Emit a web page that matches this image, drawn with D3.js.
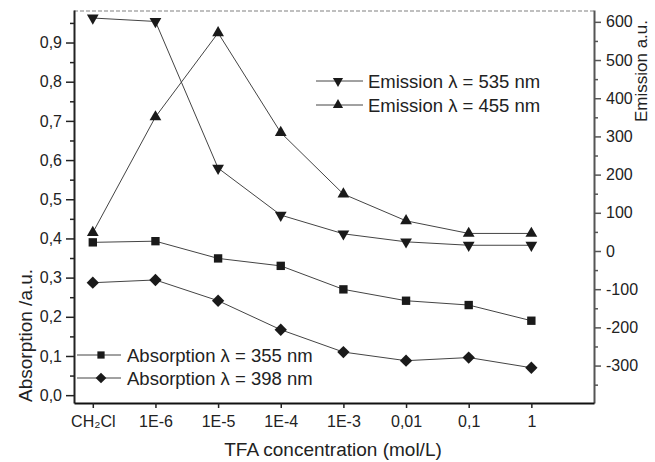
<!DOCTYPE html>
<html>
<head>
<meta charset="utf-8">
<script src="https://cdn.jsdelivr.net/npm/d3@7"></script>
<style>
  body { margin: 0; background: #fff; }
  svg { font-family: "Liberation Sans", Arial, sans-serif; }
</style>
</head>
<body>
<svg id="chart" width="655" height="462"></svg>
<script>
// categories on the x axis
const concentrations = ["CH₂Cl", "1E-6", "1E-5", "1E-4", "1E-3", "0,01", "0,1", "1"];

// emission (right axis)
const emission535 = [610, 601, 217, 94, 45, 24, 15, 15];
const emission455 = [48, 351, 571, 310, 149, 79, 46, 46];

// absorption (left axis)
const absorption355 = [0.390, 0.393, 0.349, 0.330, 0.270, 0.241, 0.230, 0.190];
const absorption398 = [0.287, 0.294, 0.241, 0.167, 0.110, 0.088, 0.096, 0.070];

const leftTicks = [0, 0.1, 0.2, 0.3, 0.4, 0.5, 0.6, 0.7, 0.8, 0.9];
const rightTicks = [-300, -200, -100, 0, 100, 200, 300, 400, 500, 600];

const svg = d3.select("#chart");

const plotL = 74, plotR = 594, plotT = 10, plotB = 403;

const x = d3.scaleLinear().domain([-0.3, 8]).range([plotL, plotR]);
const yAbs = d3.scaleLinear().domain([-0.02, 0.983]).range([plotB, plotT]);
const yEm = d3.scaleLinear().domain([-398, 631]).range([plotB, plotT]);

const fmtComma = d => d3.format(".1f")(d).replace(".", ",");

// top border, dashed gray
svg.append("line")
  .attr("x1", plotL).attr("x2", plotR)
  .attr("y1", plotT + 1).attr("y2", plotT + 1)
  .attr("stroke", "#aaa")
  .attr("stroke-width", 1.5)
  .attr("stroke-dasharray", "4,2");

// left axis, minor then major
svg.append("g")
  .attr("transform", `translate(${plotL},0)`)
  .call(d3.axisLeft(yAbs).tickValues(d3.range(0.05, 0.96, 0.1)).tickSize(4).tickFormat(""))
  .call(g => g.select(".domain").remove())
  .selectAll("line").attr("stroke", "#222").attr("stroke-width", 1.5);

const gLeft = svg.append("g")
  .attr("transform", `translate(${plotL},0)`)
  .call(d3.axisLeft(yAbs).tickValues(leftTicks).tickSize(8).tickSizeOuter(0).tickPadding(4).tickFormat(fmtComma));
gLeft.select(".domain").attr("stroke", "#222").attr("stroke-width", 2);
gLeft.selectAll(".tick line").attr("stroke", "#222").attr("stroke-width", 1.5);
gLeft.selectAll("text").attr("font-size", 16).attr("fill", "#222");
gLeft.attr("font-family", null);

// right axis
svg.append("g")
  .attr("transform", `translate(${plotR},0)`)
  .call(d3.axisRight(yEm).tickValues(d3.range(-350, 600, 100)).tickSize(4).tickFormat(""))
  .call(g => g.select(".domain").remove())
  .selectAll("line").attr("stroke", "#555").attr("stroke-width", 1.5);

const gRight = svg.append("g")
  .attr("transform", `translate(${plotR},0)`)
  .call(d3.axisRight(yEm).tickValues(rightTicks).tickSize(7).tickSizeOuter(0).tickPadding(5)
    .tickFormat(d => String(d)));
gRight.select(".domain").attr("stroke", "#555").attr("stroke-width", 2);
gRight.selectAll(".tick line").attr("stroke", "#555").attr("stroke-width", 1.5);
gRight.selectAll("text").attr("font-size", 16).attr("fill", "#222");
gRight.attr("font-family", null);

// bottom axis
const gBottom = svg.append("g")
  .attr("transform", `translate(0,${plotB})`)
  .call(d3.axisBottom(x).tickValues(d3.range(concentrations.length)).tickSize(5).tickSizeOuter(0).tickPadding(8)
    .tickFormat(i => concentrations[i]));
gBottom.select(".domain").attr("stroke", "#111").attr("stroke-width", 2);
gBottom.selectAll(".tick line").attr("stroke", "#222").attr("stroke-width", 1.5);
gBottom.selectAll("text").attr("font-size", 16).attr("fill", "#222");
gBottom.attr("font-family", null);

// axis titles
svg.append("text")
  .attr("transform", `translate(${(plotL + plotR) / 2 - 1},456)`)
  .attr("text-anchor", "middle")
  .attr("font-size", 19)
  .attr("fill", "#222")
  .text("TFA concentration (mol/L)");

svg.append("text")
  .attr("transform", "translate(32,402) rotate(-90)")
  .attr("font-size", 19)
  .attr("fill", "#222")
  .text("Absorption /a.u.");

svg.append("text")
  .attr("transform", "translate(647,20) rotate(-90)")
  .attr("text-anchor", "end")
  .attr("font-size", 17)
  .attr("fill", "#222")
  .text("Emission a.u.");

const series = [
  { name: "Emission λ = 535 nm", values: emission535, y: yEm, symbol: "down", size: 60 },
  { name: "Emission λ = 455 nm", values: emission455, y: yEm, symbol: "up", size: 60 },
  { name: "Absorption λ = 355 nm", values: absorption355, y: yAbs, symbol: "square", size: 70 },
  { name: "Absorption λ = 398 nm", values: absorption398, y: yAbs, symbol: "diamond", size: 76 }
];

function symbolPath(kind, size) {
  if (kind === "square" || kind === "diamond") return d3.symbol().type(d3.symbolSquare).size(size)();
  return d3.symbol().type(d3.symbolTriangle).size(size)();
}
function symbolRotate(kind) {
  if (kind === "down") return " rotate(180)";
  if (kind === "diamond") return " rotate(45)";
  return "";
}

const line = d3.line();

series.forEach(s => {
  const pts = s.values.map((v, i) => [x(i), s.y(v)]);
  svg.append("path")
    .attr("d", line(pts))
    .attr("fill", "none")
    .attr("stroke", "#444")
    .attr("stroke-width", 1);

  svg.selectAll(null)
    .data(pts)
    .enter()
    .append("path")
    .attr("d", symbolPath(s.symbol, s.size))
    .attr("transform", p => `translate(${p[0]},${p[1]})${symbolRotate(s.symbol)}`)
    .attr("fill", "#1a1a1a");
});

// legends
const legendTop = [series[0], series[1]];
const legendBottom = [series[2], series[3]];

function drawLegend(items, x0, x1, xm, xt, y0, dy) {
  items.forEach((s, i) => {
    const yy = y0 + i * dy;
    svg.append("line")
      .attr("x1", x0).attr("x2", x1)
      .attr("y1", yy).attr("y2", yy)
      .attr("stroke", "#444").attr("stroke-width", 1);
    svg.append("path")
      .attr("d", symbolPath(s.symbol, s.size * 0.75))
      .attr("transform", `translate(${xm},${yy})${symbolRotate(s.symbol)}`)
      .attr("fill", "#1a1a1a");
    svg.append("text")
      .attr("x", xt).attr("y", yy)
      .attr("dy", "0.36em")
      .attr("font-size", 18.5)
      .attr("fill", "#222")
      .text(s.name);
  });
}

drawLegend(legendTop, 316, 363, 338, 368, 81, 24);
drawLegend(legendBottom, 77, 121, 101, 127, 355, 23);
</script>
</body>
</html>
